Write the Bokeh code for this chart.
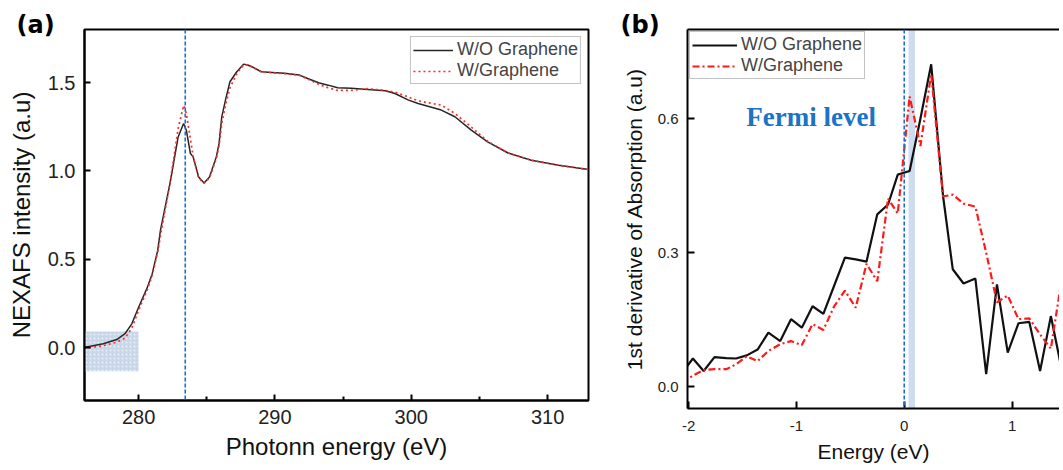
from bokeh.plotting import figure
from bokeh.layouts import row
from bokeh.models import (Range1d, FixedTicker, Legend, LegendItem, Label, Span,
                          BoxAnnotation, LinearAxis, PrintfTickFormatter)
from bokeh.embed import file_html
from bokeh.resources import INLINE

# ---------------- Panel (a) data: NEXAFS spectra ----------------
energy_a = [276.0, 277.4, 278.4, 279.0, 279.5, 280.0, 280.6, 281.0, 281.4, 281.6,
            281.9, 282.3, 282.9, 283.3, 283.5, 283.8, 284.0, 284.4, 284.8, 285.2,
            285.7, 285.9, 286.1, 286.4, 286.7, 287.2, 287.7, 288.0, 288.4, 289.0,
            289.8, 290.7, 291.8, 292.4, 293.2, 293.9, 294.6, 295.6, 296.8, 298.1,
            298.8, 299.8, 300.5, 302.2, 303.2, 304.4, 305.6, 307.1, 308.8, 310.8, 313.0]
nexafs_wo = [0.0, 0.021, 0.045, 0.078, 0.134, 0.228, 0.333, 0.418, 0.55, 0.663,
             0.777, 0.928, 1.192, 1.268, 1.23, 1.098, 1.079, 0.965, 0.931, 0.965,
             1.079, 1.155, 1.305, 1.41, 1.504, 1.561, 1.604, 1.599, 1.586, 1.561,
             1.557, 1.552, 1.542, 1.523, 1.499, 1.485, 1.47, 1.467, 1.461, 1.453,
             1.438, 1.40, 1.381, 1.344, 1.306, 1.23, 1.164, 1.101, 1.06, 1.032, 1.007]
nexafs_w = [-0.005, 0.01, 0.03, 0.053, 0.11, 0.21, 0.32, 0.41, 0.54, 0.63,
            0.76, 0.93, 1.24, 1.37, 1.325, 1.18, 1.08, 0.96, 0.93, 0.96,
            1.07, 1.14, 1.27, 1.38, 1.47, 1.55, 1.60, 1.60, 1.585, 1.56,
            1.555, 1.55, 1.54, 1.52, 1.49, 1.47, 1.455, 1.455, 1.465, 1.455,
            1.445, 1.418, 1.396, 1.372, 1.325, 1.248, 1.168, 1.101, 1.06, 1.032, 1.007]
fermi_a = 283.42
shade_a = (276.03, 280.0, -0.134, 0.09)

# ---------------- Panel (b) data: 1st derivative ----------------
energy_b = [-2.06, -1.96, -1.86, -1.76, -1.65, -1.56, -1.46, -1.36, -1.26, -1.15,
            -1.05, -0.95, -0.85, -0.75, -0.65, -0.55, -0.45, -0.35, -0.25, -0.15,
            -0.06, 0.05, 0.15, 0.25, 0.36, 0.45, 0.55, 0.66, 0.76, 0.86,
            0.96, 1.06, 1.16, 1.26, 1.36, 1.46]
deriv_wo = [0.031, 0.063, 0.035, 0.066, 0.064, 0.063, 0.070, 0.083, 0.121, 0.102,
            0.151, 0.132, 0.180, 0.163, 0.226, 0.289, 0.285, 0.280, 0.386, 0.408,
            0.475, 0.483, 0.60, 0.722, 0.427, 0.263, 0.231, 0.242, 0.028, 0.229,
            0.076, 0.142, 0.145, 0.035, 0.158, 0.039]
deriv_w = [0.008, 0.025, 0.037, 0.039, 0.039, 0.05, 0.068, 0.057, 0.08, 0.095,
           0.102, 0.093, 0.14, 0.127, 0.18, 0.215, 0.177, 0.275, 0.236, 0.421,
           0.388, 0.65, 0.539, 0.70, 0.426, 0.43, 0.41, 0.403, 0.30, 0.189,
           0.204, 0.151, 0.153, 0.117, 0.085, 0.24]
fermi_b = 0.0
band_b = (0.04, 0.10)

SANS = "Liberation Sans"
BLUE = "#1f6fc8"


def style_axis(ax, tick_px, label_px, tick_len, label_standoff, axis_standoff):
    ax.axis_line_width = 2
    ax.axis_line_color = "black"
    ax.major_tick_in = tick_len
    ax.major_tick_out = 0
    ax.major_tick_line_width = 2
    ax.minor_tick_in = 4
    ax.minor_tick_out = 0
    ax.minor_tick_line_width = 2
    ax.major_label_text_font = SANS
    ax.major_label_text_font_size = tick_px
    ax.major_label_text_color = "#222222"
    ax.major_label_standoff = label_standoff
    ax.axis_label_text_font = SANS
    ax.axis_label_text_font_size = label_px
    ax.axis_label_text_font_style = "normal"
    ax.axis_label_text_color = "#111111"
    ax.axis_label_standoff = axis_standoff


def style_title(p, text, offset):
    p.title.text = text
    p.title.align = "left"
    p.title.offset = offset
    p.title.standoff = -18
    p.title.text_font = "DejaVu Sans"
    p.title.text_font_style = "bold"
    p.title.text_font_size = "24px"
    p.title.text_color = "black"


# ================= Panel (a) =================
p1 = figure(frame_width=504, frame_height=371, min_border_left=84, min_border_right=20,
            min_border_top=28, min_border_bottom=67,
            x_range=Range1d(276.03, 313.0), y_range=Range1d(-0.30, 1.80),
            output_backend="svg", toolbar_location=None)
p1.xgrid.visible = False
p1.ygrid.visible = False
p1.outline_line_color = "black"
p1.outline_line_width = 2
p1.outline_line_alpha = 1
style_title(p1, "(a)", -68)

style_axis(p1.xaxis[0], "20px", "24px", 6, 9, 6)
style_axis(p1.yaxis[0], "20px", "24px", 6, 9, 10)
p1.xaxis[0].ticker = FixedTicker(ticks=[280, 290, 300, 310], minor_ticks=[285, 295, 305])
p1.yaxis[0].ticker = FixedTicker(ticks=[0, 0.5, 1.0, 1.5], minor_ticks=[])
p1.yaxis[0].formatter = PrintfTickFormatter(format="%.1f")
p1.xaxis[0].axis_label = "Photonn energy (eV)"
p1.yaxis[0].axis_label = "NEXAFS intensity (a.u)"

box = BoxAnnotation(left=shade_a[0], right=shade_a[1], bottom=shade_a[2], top=shade_a[3],
                    fill_color="#c2d2e8", fill_alpha=0.9, line_color=None,
                    hatch_pattern="dot", hatch_color="white", hatch_alpha=0.6,
                    hatch_scale=4, level="underlay")
p1.add_layout(box)
p1.add_layout(Span(location=fermi_a, dimension="height", line_color=BLUE,
                   line_dash="4 2", line_width=1.6))

r_wo = p1.line(energy_a, nexafs_wo, line_color="#262626", line_width=1.5)
r_w = p1.line(energy_a, nexafs_w, line_color="#ff2a2a", line_width=1.7, line_dash="2 3")

leg1 = Legend(items=[LegendItem(label="W/O Graphene", renderers=[r_wo]),
                     LegendItem(label="W/Graphene", renderers=[r_w])],
              location="top_right", margin=7, padding=2, spacing=0,
              glyph_width=40, glyph_height=18, label_height=18, label_standoff=4,
              label_text_font=SANS, label_text_font_size="18px",
              border_line_color="#888888", border_line_width=1,
              background_fill_color="white", background_fill_alpha=1)
p1.add_layout(leg1)

# ================= Panel (b) =================
p2 = figure(frame_width=372, frame_height=379, min_border_left=79, min_border_right=0,
            min_border_top=29, min_border_bottom=59,
            x_range=Range1d(-2.01, 1.44), y_range=Range1d(-0.049, 0.80),
            output_backend="svg", toolbar_location=None)
p2.xgrid.visible = False
p2.ygrid.visible = False
p2.outline_line_color = None

style_axis(p2.xaxis[0], "15px", "21px", 7, 12, 6)
style_axis(p2.yaxis[0], "15px", "21px", 7, 9, 9)
p2.xaxis[0].ticker = FixedTicker(ticks=[-2, -1, 0, 1], minor_ticks=[])
p2.xaxis[0].major_label_overrides = {-2: "-2", -1: "-1", 0: "0", 1: "1"}
p2.yaxis[0].ticker = FixedTicker(ticks=[0, 0.3, 0.6], minor_ticks=[])
p2.yaxis[0].formatter = PrintfTickFormatter(format="%.1f")
p2.xaxis[0].axis_label = "Energy (eV)"
p2.yaxis[0].axis_label = "1st derivative of Absorption (a.u)"

top_ax = LinearAxis(ticker=FixedTicker(ticks=[], minor_ticks=[]),
                    axis_line_width=2, axis_line_color="black",
                    major_tick_line_color=None, minor_tick_line_color=None,
                    major_label_text_font_size="0px", major_label_standoff=0)
p2.add_layout(top_ax, "above")
style_title(p2, "(b)", -67)

p2.add_layout(BoxAnnotation(left=band_b[0], right=band_b[1], fill_color="#c5d6ec",
                            fill_alpha=0.85, line_color=None, level="underlay"))
p2.add_layout(Span(location=fermi_b, dimension="height", line_color=BLUE,
                   line_dash="4 2", line_width=1.6))

b_wo = p2.line(energy_b, deriv_wo, line_color="#111111", line_width=2.2)
b_w = p2.line(energy_b, deriv_w, line_color="#ff1a1a", line_width=2.2, line_dash="7 3 2 3")

leg2 = Legend(items=[LegendItem(label="W/O Graphene", renderers=[b_wo]),
                     LegendItem(label="W/Graphene", renderers=[b_w])],
              location="top_left", margin=2, padding=2, spacing=0,
              glyph_width=45, glyph_height=18, label_height=18, label_standoff=4,
              label_text_font=SANS, label_text_font_size="18px",
              border_line_color="#888888", border_line_width=1,
              background_fill_color="white", background_fill_alpha=1)
p2.add_layout(leg2)

p2.add_layout(Label(x=-1.464, y=0.605, text="Fermi level", text_font="Liberation Serif",
                    text_font_style="bold", text_font_size="27px", text_color="#1a73c6",
                    text_baseline="alphabetic"))

layout = row(p1, p2)
open("out.html", "w").write(file_html(layout, INLINE))
